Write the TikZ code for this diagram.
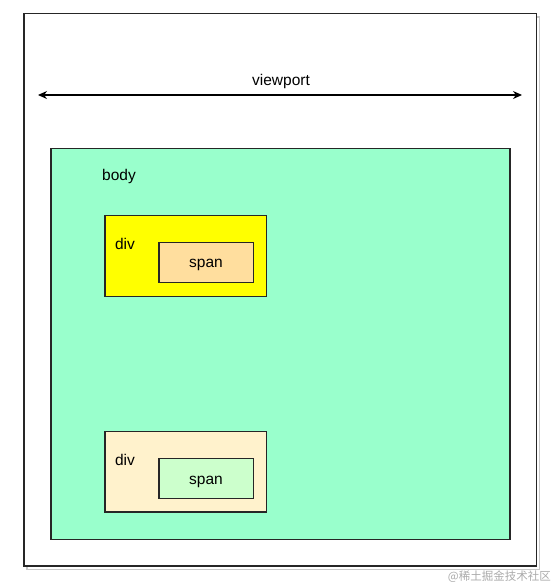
\documentclass[tikz,border=0pt]{standalone}
\usepackage{fontspec}
\setmainfont{Liberation Sans}
\newfontfamily\cjk{Noto Sans CJK SC}
\usetikzlibrary{arrows.meta}
\definecolor{bodyfill}{HTML}{99FFCC}
\definecolor{divA}{HTML}{FFFF00}
\definecolor{spanA}{HTML}{FFDE9E}
\definecolor{divB}{HTML}{FFF2CC}
\definecolor{spanB}{HTML}{CCFFCC}
\definecolor{shadowgray}{HTML}{C8C8C8}
\definecolor{markgray}{HTML}{AAAAAA}
\tikzset{
  box/.style={draw=black!85, line width=1.4pt},
  lbl/.style={font=\fontsize{15.5}{18}\selectfont, inner sep=0pt},
}
\begin{document}
\begin{tikzpicture}[x=1pt,y=-1pt]
\useasboundingbox (0,0) rectangle (553,587);
% outer viewport box with shadow
\draw[shadowgray, line width=1.5pt] (27,17) rectangle (539.5,569.5);
\draw[box, fill=white] (24,13.5) rectangle (536.5,566);
% viewport arrow
\coordinate (vl) at (38,95);
\coordinate (vr) at (522,95);
\draw[line width=1.3pt, {Stealth[length=9pt,width=8pt]}-{Stealth[length=9pt,width=8pt]}] (vl) -- (vr);
\node[lbl] (vp) at (281,81.5) {viewport};
% body
\draw[box, fill=bodyfill] (51,148.5) rectangle (510,539.5);
\node[lbl] (body) at (119,176) {body};
% div 1
\draw[box, fill=divA] (105,215.5) rectangle (266.5,296.5);
\node[lbl] (div1) at (125,243.5) {div};
\draw[box, fill=spanA] (159,242.5) rectangle (253.5,282.5);
\node[lbl] (span1) at (206,265) {span};
% div 2
\draw[box, fill=divB] (105,431.5) rectangle (266.5,512);
\node[lbl] (div2) at (125,459.5) {div};
\draw[box, fill=spanB] (159,458.5) rectangle (253.5,498.5);
\node[lbl] (span2) at (206,481.5) {span};
% watermark
\node[anchor=east, inner sep=0pt, text=markgray, font=\cjk\fontsize{11.5}{13}\selectfont] (wm) at (551,577) {@稀土掘金技术社区};
\end{tikzpicture}
\end{document}
